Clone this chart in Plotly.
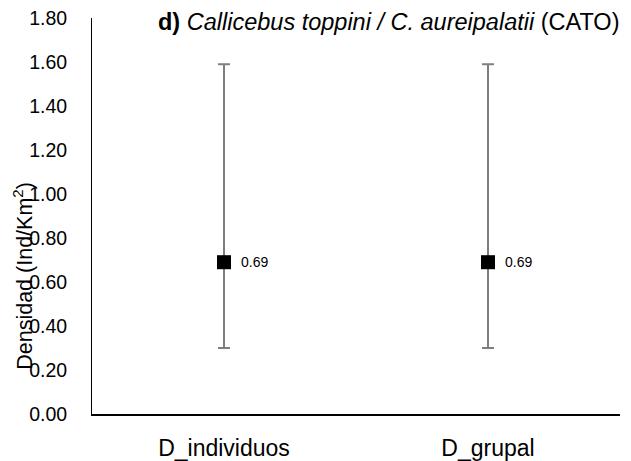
import plotly.graph_objects as go

# Density estimates with confidence limits
categories = ["D_individuos", "D_grupal"]
density = [0.69, 0.69]
upper = [1.59, 1.59]
lower = [0.30, 0.30]
y_ticks = [0.0, 0.2, 0.4, 0.6, 0.8, 1.0, 1.2, 1.4, 1.6, 1.8]

err_plus = [u - d for u, d in zip(upper, density)]
err_minus = [d - l for d, l in zip(density, lower)]

font_family = "Liberation Sans, Arial, sans-serif"

fig = go.Figure()
fig.add_trace(go.Scatter(
    x=categories,
    y=density,
    mode="markers",
    marker=dict(symbol="square", size=14, color="black"),
    error_y=dict(type="data", symmetric=False, array=err_plus, arrayminus=err_minus,
                 color="#7f7f7f", thickness=2, width=6),
    cliponaxis=False,
    showlegend=False,
))

# value labels beside each marker
value_labels = [
    dict(text=f"{v:.2f}", x=c, y=v, xref="x", yref="y",
         xanchor="left", yanchor="middle", xshift=15, showarrow=False,
         font=dict(family=font_family, size=14, color="black"))
    for c, v in zip(categories, density)
]

fig.update_layout(
    width=631, height=461,
    margin=dict(l=92, r=11, t=18, b=47, autoexpand=False),
    paper_bgcolor="white", plot_bgcolor="white",
    font=dict(family=font_family, color="black"),
    xaxis=dict(
        type="category", range=[-0.5, 1.5], automargin=False,
        showline=True, linecolor="black", linewidth=2,
        showgrid=False, zeroline=False, ticks="",
        tickfont=dict(size=23, color="black"),
        ticklabelstandoff=12,
    ),
    yaxis=dict(
        range=[0, 1.8], automargin=False,
        tickvals=y_ticks, ticktext=[f"{v:.2f}" for v in y_ticks],
        showline=True, linecolor="black", linewidth=1,
        showgrid=False, zeroline=False, ticks="",
        tickfont=dict(size=19.5, color="black"),
        ticklabelstandoff=20,
    ),
    annotations=value_labels + [
        dict(
            text="<b>d)</b> <i>Callicebus toppini / C. aureipalatii</i> (CATO)",
            xref="paper", yref="paper", x=0.5616, y=0.99,
            xanchor="center", yanchor="middle", showarrow=False,
            font=dict(family=font_family, size=23.5, color="black"),
        ),
        dict(
            text="Densidad (Ind/Km<sup>2</sup>)",
            xref="paper", yref="paper", x=-0.13, y=0.35,
            xanchor="center", yanchor="middle", textangle=-90, showarrow=False,
            font=dict(family=font_family, size=21.5, color="black"),
        ),
    ],
)

fig.write_html("out.html")
